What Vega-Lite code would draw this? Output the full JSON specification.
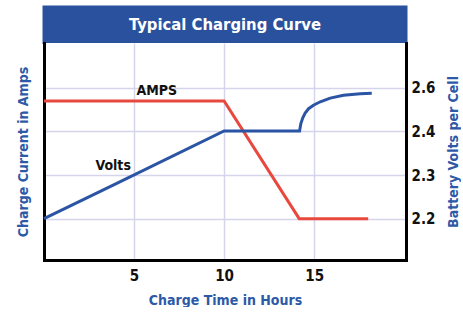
{
  "$schema": "https://vega.github.io/schema/vega-lite/v6.json",
  "background": "white",
  "padding": {"left": 16, "top": 5, "right": 0, "bottom": 0},
  "spacing": 0,
  "bounds": "flush",
  "config": {
    "view": {"stroke": null},
    "font": "Liberation Sans Narrow, DejaVu Sans Condensed, Roboto Condensed, Liberation Sans, sans-serif",
    "axis": {
      "labelFont": "Liberation Sans Narrow, DejaVu Sans Condensed, Roboto Condensed, Liberation Sans, sans-serif",
      "titleFont": "Liberation Sans Narrow, DejaVu Sans Condensed, Roboto Condensed, Liberation Sans, sans-serif",
      "labelFontWeight": "bold",
      "titleFontWeight": "bold",
      "labelFontSize": 15,
      "titleFontSize": 14,
      "labelColor": "#111111",
      "titleColor": "#2d59a7",
      "domainColor": "#000000",
      "domainWidth": 3,
      "domainCap": "square",
      "ticks": false,
      "gridColor": "#d4d4ea",
      "gridWidth": 1.5
    }
  },
  "vconcat": [
    {
      "width": 362,
      "height": 35.5,
      "view": {"fill": "#2a519d", "stroke": "#2a519d", "strokeWidth": 3},
      "data": {"values": [{"heading": "Typical Charging Curve"}]},
      "mark": {"type": "text", "color": "white", "fontSize": 16.5, "fontWeight": "bold"},
      "encoding": {"text": {"field": "heading", "type": "nominal"}}
    },
    {
      "width": 362,
      "height": 217,
      "view": {"fill": "white", "stroke": null},
      "layer": [
        {
          "data": {"values": [
            {"hours": 0, "amps": 100},
            {"hours": 6.26, "amps": 100, "label": "AMPS"},
            {"hours": 10, "amps": 100},
            {"hours": 14.17, "amps": 26},
            {"hours": 18, "amps": 26}
          ]},
          "encoding": {
            "x": {
              "field": "hours", "type": "quantitative",
              "scale": {"domain": [0, 20.1], "nice": false, "zero": false},
              "axis": {"title": "Charge Time in Hours", "values": [5, 10, 15], "grid": true, "labelPadding": 8, "labelBaseline": "top", "titlePadding": 10, "labelFlush": false}
            },
            "y": {
              "field": "amps", "type": "quantitative",
              "scale": {"domain": [0, 136.5], "nice": false, "zero": false},
              "axis": {"orient": "left", "title": "Charge Current in Amps", "labels": false, "grid": false, "titlePadding": 14}
            }
          },
          "layer": [
            {"mark": {"type": "line", "color": "#e8483e", "strokeWidth": 3}},
            {
              "transform": [{"filter": "isValid(datum.label)"}],
              "mark": {"type": "text", "fontSize": 14, "fontWeight": "bold", "color": "#111111", "align": "center", "baseline": "middle", "dy": -10},
              "encoding": {"text": {"field": "label", "type": "nominal"}}
            }
          ]
        },
        {
          "data": {"values": [
            {"hours": 0, "volts": 2.2},
            {"hours": 3.84, "volts": 2.277, "label": "Volts"},
            {"hours": 10, "volts": 2.4},
            {"hours": 14.19, "volts": 2.4},
            {"hours": 14.26, "volts": 2.434},
            {"hours": 14.37, "volts": 2.461},
            {"hours": 14.5, "volts": 2.483},
            {"hours": 14.69, "volts": 2.503},
            {"hours": 14.96, "volts": 2.519},
            {"hours": 15.34, "volts": 2.535},
            {"hours": 15.89, "volts": 2.552},
            {"hours": 16.63, "volts": 2.565},
            {"hours": 17.56, "volts": 2.572},
            {"hours": 18.2, "volts": 2.574}
          ]},
          "encoding": {
            "x": {
              "field": "hours", "type": "quantitative",
              "scale": {"domain": [0, 20.1], "nice": false, "zero": false},
              "axis": {"title": "Charge Time in Hours", "values": [5, 10, 15], "grid": true, "labelPadding": 8, "labelBaseline": "top", "titlePadding": 10, "labelFlush": false}
            },
            "y": {
              "field": "volts", "type": "quantitative",
              "scale": {"domain": [2.1, 2.2, 2.3, 2.4, 2.6, 2.8], "range": [217, 175.7, 132, 88, 44.7, 0], "nice": false, "zero": false},
              "axis": {"orient": "right", "title": "Battery Volts per Cell", "values": [2.2, 2.3, 2.4, 2.6], "format": ".1f", "grid": true, "labelPadding": 5, "titleAngle": 270, "titleBaseline": "top", "titlePadding": 12, "labelFlush": false}
            }
          },
          "layer": [
            {"mark": {"type": "line", "color": "#2b55a4", "strokeWidth": 3}},
            {
              "transform": [{"filter": "isValid(datum.label)"}],
              "mark": {"type": "text", "fontSize": 14, "fontWeight": "bold", "color": "#111111", "align": "center", "baseline": "middle", "dy": -19},
              "encoding": {"text": {"field": "label", "type": "nominal"}}
            }
          ]
        }
      ],
      "resolve": {"scale": {"y": "independent"}}
    }
  ]
}
